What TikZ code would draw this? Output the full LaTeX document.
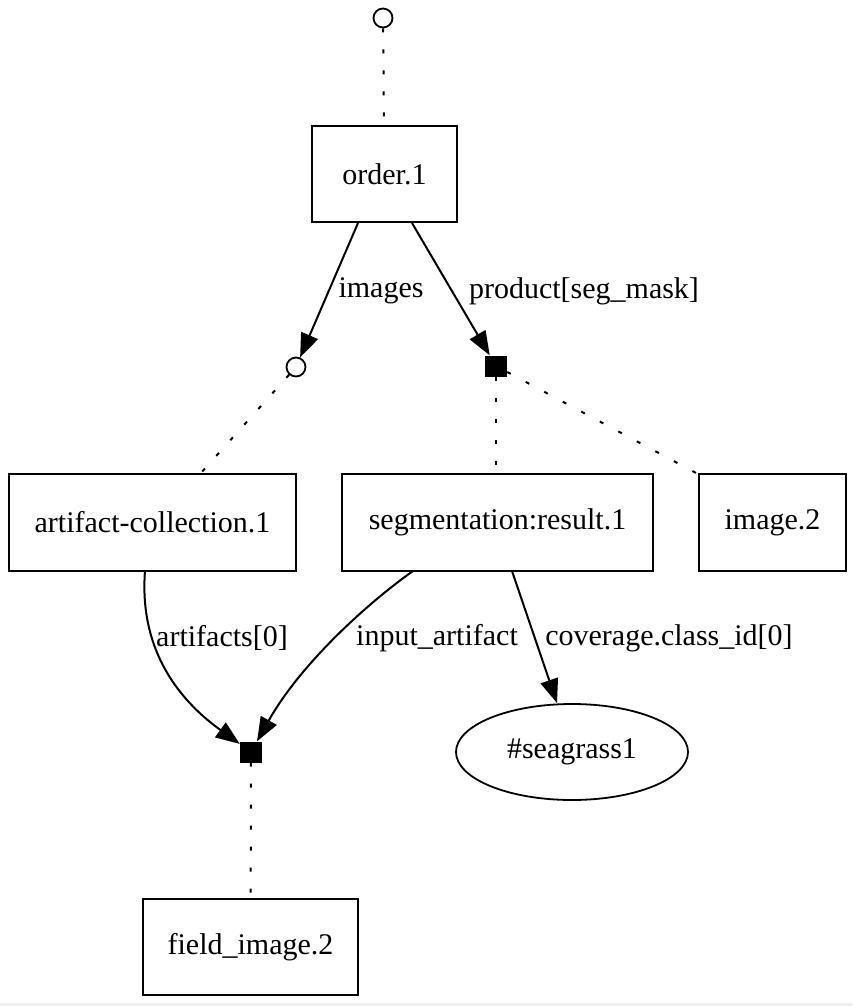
\documentclass[tikz,border=0pt]{standalone}
\usepackage{fontspec}
\setmainfont{Liberation Serif}
\usetikzlibrary{arrows.meta,shapes.geometric}
\begin{document}
\begin{tikzpicture}[x=1pt,y=-1pt,
  every node/.style={font=\fontsize{30}{36}\selectfont},
  box/.style={draw,line width=2pt,rectangle,inner sep=0pt},
  hole/.style={draw,line width=1.8pt,circle,minimum size=19pt,inner sep=0pt},
  blk/.style={fill=black,rectangle,minimum width=22pt,minimum height=21pt,inner sep=0pt},
  ell/.style={draw,line width=1.8pt,ellipse,minimum width=232pt,minimum height=96pt,inner sep=0pt},
  dots/.style={line width=2pt,dash pattern=on 4pt off 17pt},
  arr/.style={line width=2pt,-{Triangle[length=24pt,width=18pt]}},
  lbl/.style={fill=none,inner sep=0pt}]
\useasboundingbox (0,0) rectangle (852,1006);
\fill[gray!12] (0,1003) rectangle (852,1006);
% nodes
\node[hole] (top) at (383,18) {};
\node[box,minimum width=145pt,minimum height=96pt] (order) at (384.5,174) {order.1};
\node[hole] (imgs) at (296,367) {};
\node[blk] (prod) at (496,366) {};
\node[box,minimum width=287pt,minimum height=97pt] (ac) at (152.5,522.5) {artifact-collection.1};
\node[box,minimum width=311pt,minimum height=97pt] (seg) at (497.5,522.5) {segmentation:result.1};
\node[box,minimum width=147pt,minimum height=97pt] (img2) at (772.5,522.5) {image.2};
\node[blk] (art) at (251,752) {};
\node[ell] (sea) at (572,752) {\#seagrass1};
\node[box,minimum width=215pt,minimum height=96pt] (fi) at (250.5,947) {field\_image.2};
% coordinates for edge ends
\coordinate (o1) at (358,223);
\coordinate (o2) at (412,223);
\coordinate (ac1) at (145,571);
\coordinate (s1) at (413,571);
\coordinate (s2) at (512,571);
% edges
\draw[dots] (top) -- (order);
\draw[arr] (o1) -- (imgs);
\draw[arr] (o2) -- (prod);
\node[lbl] (limg) at (381,291) {images};
\node[lbl] (lprod) at (584,291) {product[seg\_mask]};
\draw[dots] (imgs) -- (200,474) coordinate (acTop);
\draw[dots] (prod) -- (prod |- seg.north);
\draw[dots] (prod) -- (698,474) coordinate (i2Top);
\draw[arr] (ac1) .. controls (140,635) and (165,690) .. (art);
\draw[arr] (s1) .. controls (365,605) and (300,665) .. (art);
\draw[arr] (s2) -- (sea.north -| 557,0);
\node[lbl] (lart) at (222,638) {artifacts[0]};
\node[lbl] (linp) at (437,638) {input\_artifact};
\node[lbl] (lcov) at (669,638) {coverage.class\_id[0]};
\draw[dots] (art) -- (fi);
\end{tikzpicture}
\end{document}
